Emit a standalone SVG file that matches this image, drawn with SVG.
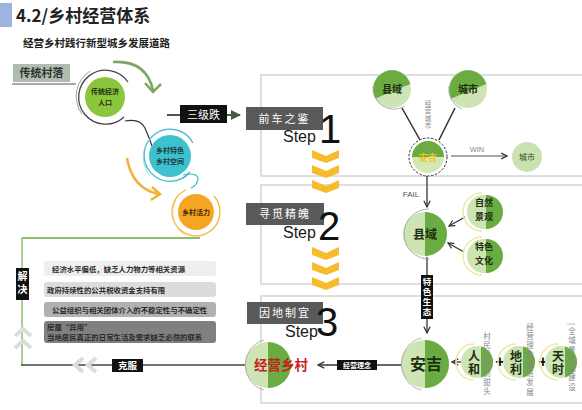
<svg xmlns="http://www.w3.org/2000/svg" width="582" height="410" viewBox="0 0 582 410">
<defs>
<style>
.cjk{font-family:"Noto Sans CJK SC","Noto Sans",sans-serif}
.lat{font-family:"Liberation Sans",Arial,sans-serif}
.box{fill:none;stroke:#d4d4d4;stroke-width:1.5}
.step{fill:#595959}
.steptxt{fill:#fff;font-size:11px;letter-spacing:2px}
.stepw{font-size:16px;fill:#1a1a1a}
.num{font-size:40px;fill:#111}
.chev{fill:#f8bb2c}
.gchev{fill:none;stroke:#dcdcdc;stroke-width:4}
.lt{fill:#cde4b4}
.dk{fill:#6aab42}
.gl{fill:none;stroke:#9a9a9a;stroke-width:0.8}
.yl{fill:none;stroke:#efe9a8;stroke-width:1.5}
.ln{fill:none;stroke:#333;stroke-width:1.5}
.blk{fill:#111}
.vert{writing-mode:vertical-rl}
.vt{font-size:7.5px;fill:#888;letter-spacing:1.8px}
.tb{font-size:7.4px;fill:#2a2a2a;font-weight:bold}
.nt{font-weight:bold;fill:#1e2e10}
.pair{font-size:12px;letter-spacing:1px}
</style>
<marker id="ah" viewBox="0 0 10 10" refX="9" refY="5" markerWidth="6" markerHeight="6" orient="auto-start-reverse">
<path d="M1,1 L9,5 L1,9" fill="none" stroke="#333" stroke-width="1.6"/>
</marker>
<marker id="ahs" viewBox="0 0 10 10" refX="9" refY="5" markerWidth="5" markerHeight="5" orient="auto">
<path d="M0,0 L10,5 L0,10 Z" fill="#4a5a40"/>
</marker>
</defs>
<rect width="582" height="410" fill="#fff"/>

<g id="title">
<rect x="0" y="3" width="12" height="24" fill="#9db4e0"/>
<text x="16" y="22" class="cjk" font-size="17" font-weight="bold" fill="#222">4.2/乡村经营体系</text>
<text x="23" y="47" class="cjk" font-size="10.5" font-weight="bold" fill="#222">经营乡村践行新型城乡发展道路</text>
</g>

<g id="panels">
<rect class="box" x="261" y="75" width="330" height="101"/>
<rect class="box" x="261" y="185" width="330" height="99"/>
<rect class="box" x="261" y="296" width="330" height="107"/>
</g>

<g id="connectors">
<path d="M113,62 Q146,60 153,90" fill="none" stroke="#7aa860" stroke-width="2.5"/>
<path d="M145,83 L153,92 L161,84" fill="none" stroke="#7aa860" stroke-width="2.5"/>
<path d="M127,158 Q132,188 158,194" fill="none" stroke="#f3b03a" stroke-width="2.5"/>
<path d="M152,187 L160,194 L151,200" fill="none" stroke="#f3b03a" stroke-width="2.5"/>
<path d="M125,121 Q140,118 145,128 Q150,140 152,146" fill="none" stroke="#333" stroke-width="1.2"/>
<path d="M183,175 Q196,172 198,178 Q198,185 191,188" fill="none" stroke="#3bb8c8" stroke-width="1.2"/>
<line x1="167" y1="115" x2="240" y2="115" stroke="#4a5a40" stroke-width="2" marker-end="url(#ahs)"/>
<line class="ln" x1="402" y1="108" x2="420" y2="140"/>
<line class="ln" x1="455" y1="108" x2="439" y2="140"/>
<line x1="451" y1="156" x2="507" y2="156" stroke="#555" stroke-width="1.2" marker-end="url(#ah)"/>
<line x1="427" y1="176" x2="427" y2="207" stroke="#333" stroke-width="1.3" marker-end="url(#ah)"/>
<line x1="465" y1="217" x2="449" y2="226" stroke="#333" stroke-width="1.2" marker-end="url(#ah)"/>
<line x1="464" y1="252" x2="448" y2="243" stroke="#333" stroke-width="1.2" marker-end="url(#ah)"/>
<line x1="427" y1="257" x2="427" y2="333" stroke="#333" stroke-width="1.3" marker-end="url(#ah)"/>
<line x1="463" y1="362" x2="452" y2="362" stroke="#333" stroke-width="1.3" marker-end="url(#ah)"/>
<line x1="401" y1="365" x2="318" y2="365" stroke="#333" stroke-width="1.3" marker-end="url(#ah)"/>
<line x1="22" y1="238" x2="200" y2="238" stroke="#8dc06a" stroke-width="2"/>
<line x1="22" y1="238" x2="22" y2="365" stroke="#8dc06a" stroke-width="1.5"/>
<line x1="21" y1="365" x2="245" y2="365" stroke="#444" stroke-width="1.5"/>
<line x1="12" y1="84" x2="76" y2="84" stroke="#555" stroke-width="1.2"/>
</g>

<g id="traditional">
<rect x="13" y="64" width="57" height="18" fill="#aebdad"/>
<text x="41.5" y="77" class="cjk" font-size="11" font-weight="bold" fill="#333" text-anchor="middle">传统村落</text>
</g>
<g id="c-economy">
<path d="M128,82 A27,27 0 1 0 124,117" fill="none" stroke="#444" stroke-width="1.3"/>
<path d="M90,71 A30,30 0 0 0 82,114" fill="none" stroke="#888" stroke-width="0.8"/>
<circle cx="105" cy="97" r="20" fill="#8cc63e"/>
<text class="cjk" font-size="7" font-weight="bold" fill="#243010" text-anchor="middle"><tspan x="105" y="94">传统经济</tspan><tspan x="105" y="105">人口</tspan></text>
</g>
<g id="c-space">
<path d="M193,143 A26,26 0 1 0 190,172" fill="none" stroke="#3bb8c8" stroke-width="1.3"/>
<path d="M160,131 A29,29 0 0 0 150,176" fill="none" stroke="#8fd5de" stroke-width="0.8"/>
<circle cx="170" cy="156" r="21" fill="#3ec1cf"/>
<text class="cjk" font-size="7" font-weight="bold" fill="#1a3a40" text-anchor="middle"><tspan x="170" y="153">乡村特色</tspan><tspan x="170" y="164">乡村空间</tspan></text>
</g>
<g id="c-vitality">
<path d="M186,190 A24,24 0 1 0 214,196" fill="none" stroke="#f5b335" stroke-width="1.3"/>
<path d="M176,200 A27,27 0 0 0 186,236" fill="none" stroke="#f8cf7a" stroke-width="0.8"/>
<circle cx="196" cy="212" r="18" fill="#f6a622"/>
<text x="196" y="215" class="cjk" font-size="7" font-weight="bold" fill="#3a2400" text-anchor="middle">乡村活力</text>
</g>
<g id="lbl-sanji">
<rect x="180" y="105" width="47" height="18" class="blk"/>
<text x="203.5" y="118.5" class="cjk" font-size="11" fill="#fff" text-anchor="middle">三级跌</text>
</g>

<g id="step1">
<rect class="step" x="246" y="107" width="77" height="23"/>
<text x="284.5" y="122.5" class="cjk steptxt" text-anchor="middle">前车之鉴</text>
<text x="283" y="142" class="lat stepw">Step</text>
<text x="319" y="143" class="lat num">1</text>
</g>
<g id="step2">
<rect class="step" x="246" y="203" width="78" height="22"/>
<text x="285" y="218" class="cjk steptxt" text-anchor="middle">寻觅精魄</text>
<text x="283" y="238" class="lat stepw">Step</text>
<text x="318" y="240" class="lat num">2</text>
</g>
<g id="step3">
<rect class="step" x="247" y="302" width="76" height="22"/>
<text x="285" y="317" class="cjk steptxt" text-anchor="middle">因地制宜</text>
<text x="285" y="337" class="lat stepw">Step</text>
<text x="316" y="336" class="lat num">3</text>
</g>
<g id="chevrons">
<path class="chev" d="M312,150 L326,156 L339,150 L339,158 L326,163 L312,158 Z"/>
<path class="chev" d="M312,165 L326,171 L339,165 L339,173 L326,178 L312,173 Z"/>
<path class="chev" d="M312,180 L326,186 L339,180 L339,188 L326,193 L312,188 Z"/>
<path class="chev" d="M312,247 L326,253 L339,247 L339,255 L326,260 L312,255 Z"/>
<path class="chev" d="M312,262 L326,268 L339,262 L339,270 L326,275 L312,270 Z"/>
<path class="chev" d="M312,277 L326,283 L339,277 L339,285 L326,290 L312,285 Z"/>
</g>

<g id="n-xianyu-top">
<circle class="lt" cx="392" cy="89" r="19"/>
<path class="dk" d="M410.4,84.1 A19,19 0 1 0 375.5,98.5 Z"/>
<path class="gl" d="M373,86 A21,21 0 0 0 405,106"/>
<text x="392" y="93" class="cjk nt" font-size="10" text-anchor="middle">县域</text>
</g>
<g id="n-city-top">
<circle class="lt" cx="468" cy="89" r="19"/>
<path class="dk" d="M486.4,84.1 A19,19 0 1 0 451.5,98.5 Z"/>
<path class="gl" d="M449,86 A21,21 0 0 0 462,109"/>
<text x="468" y="93" class="cjk nt" font-size="10" text-anchor="middle">城市</text>
</g>
<g id="lbl-jycs">
<text x="428" y="100" class="cjk vert" font-size="6.5" fill="#888" letter-spacing="1">经营城市</text>
</g>
<g id="n-anji-top">
<circle cx="428" cy="157" r="19" fill="#fff" stroke="#333" stroke-width="1" stroke-dasharray="2.5,1.5"/>
<circle cx="428" cy="157" r="16" fill="#d3e9b5"/>
<path d="M412,157 A16,16 0 0 1 444,157 Z" fill="#6aab42"/>
<text x="428" y="161" class="cjk" font-size="9" font-weight="bold" fill="#f5c518" text-anchor="middle">安吉</text>
</g>
<g id="lbl-win"><text x="477" y="152" class="lat" font-size="7.5" fill="#888" text-anchor="middle">WIN</text></g>
<g id="n-city-win">
<circle cx="527" cy="157" r="15" fill="#c8e2b0"/>
<text x="527" y="160" class="cjk" font-size="8" fill="#3a4a30" text-anchor="middle">城市</text>
</g>
<g id="lbl-fail"><text x="411" y="197" class="lat" font-size="8" fill="#555" text-anchor="middle">FAIL</text></g>

<g id="n-xianyu-mid">
<circle class="lt" cx="425" cy="234" r="22"/>
<path class="dk" d="M425,212 A22,22 0 0 1 425,256 Z"/>
<path class="gl" d="M429,209 A25,25 0 0 0 429,259"/>
<text x="425" y="239" class="cjk nt" font-size="12" text-anchor="middle">县域</text>
</g>
<g id="n-nature">
<circle class="lt" cx="484" cy="212" r="17"/>
<path class="dk" d="M486,195 A17,17 0 0 1 486,229 Z"/>
<path class="yl" d="M482,193 A19,19 0 0 0 482,231"/>
<text class="cjk nt" font-size="9" text-anchor="middle"><tspan x="484" y="206">自然</tspan><tspan x="484" y="220">景观</tspan></text>
</g>
<g id="n-culture">
<circle class="lt" cx="484" cy="256" r="17"/>
<path class="dk" d="M486,239 A17,17 0 0 1 486,273 Z"/>
<path class="yl" d="M482,237 A19,19 0 0 0 482,275"/>
<text class="cjk nt" font-size="9" text-anchor="middle"><tspan x="484" y="250">特色</tspan><tspan x="484" y="264">文化</tspan></text>
</g>
<g id="lbl-tsst">
<rect x="421" y="275" width="12" height="44" class="blk"/>
<text x="427" y="278" class="cjk vert" font-size="8.5" fill="#fff" font-weight="bold" letter-spacing="1.5">特色生态</text>
</g>

<g id="n-anji">
<circle class="lt" cx="425" cy="364" r="24"/>
<path class="dk" d="M425,340 A24,24 0 0 1 425,388 Z"/>
<path class="gl" d="M421,338 A27,27 0 0 0 421,390"/>
<text x="426" y="370" class="cjk nt" font-size="16" text-anchor="middle">安吉</text>
</g>
<g id="n-renhe">
<circle class="lt" cx="477" cy="362" r="16"/>
<path class="dk" d="M481,346.5 A16,16 0 0 1 481,377.5 Z"/>
<path class="yl" d="M474,344 A18,18 0 0 0 474,380"/>
<text x="474" y="350" class="cjk nt vert pair">人和</text>
</g>
<g id="plus1"><text x="500" y="367" class="lat" font-size="16" font-weight="bold" fill="#111" text-anchor="middle">+</text></g>
<g id="n-dili">
<circle class="lt" cx="519" cy="362" r="16"/>
<path class="dk" d="M523,346.5 A16,16 0 0 1 523,377.5 Z"/>
<path class="yl" d="M516,344 A18,18 0 0 0 516,380"/>
<text x="516" y="350" class="cjk nt vert pair">地利</text>
</g>
<g id="plus2"><text x="543" y="367" class="lat" font-size="16" font-weight="bold" fill="#111" text-anchor="middle">+</text></g>
<g id="n-tianshi">
<circle class="lt" cx="561" cy="362" r="16"/>
<path class="dk" d="M565,346.5 A16,16 0 0 1 565,377.5 Z"/>
<path class="yl" d="M558,344 A18,18 0 0 0 558,380"/>
<text x="558" y="350" class="cjk nt vert pair">天时</text>
</g>
<g id="vt-cunmin"><text x="487" y="332" class="cjk vert vt">村民已尝到甜头</text></g>
<g id="vt-jingying"><text x="530" y="323" class="cjk vert vt">经营理念推进发展</text></g>
<g id="vt-quanyu"><text x="572" y="323" class="cjk vert vt">[全域景区化建设</text></g>
<g id="lbl-jyln">
<rect x="337" y="360" width="40" height="10" class="blk"/>
<text x="357" y="368" class="cjk" font-size="7" fill="#fff" text-anchor="middle" font-weight="bold">经营理念</text>
</g>
<g id="n-jyxc">
<circle class="lt" cx="268" cy="365" r="23"/>
<path class="dk" d="M268,342 A23,23 0 0 1 268,388 Z"/>
<path class="gl" d="M264,340 A26,26 0 0 0 264,390"/>
<text x="281" y="370" class="cjk" font-size="13.5" font-weight="bold" fill="#c81e1e" text-anchor="middle">经营乡村</text>
</g>

<g id="lbl-jiejue">
<rect x="16" y="268" width="13" height="32" class="blk"/>
<text x="22.5" y="271" class="cjk vert" font-size="10" fill="#fff" font-weight="bold" letter-spacing="3">解决</text>
</g>
<g id="upchev">
<path class="gchev" d="M15,336 L23,329 L31,336"/>
<path class="gchev" d="M15,348 L23,341 L31,348"/>
</g>
<g id="leftchev">
<path class="gchev" d="M83,358 L75,365 L83,372"/>
<path class="gchev" d="M96,358 L88,365 L96,372"/>
</g>
<g id="lbl-kefu">
<rect x="112" y="359" width="31" height="13" class="blk"/>
<text x="127.5" y="369" class="cjk" font-size="9.5" fill="#fff" text-anchor="middle" font-weight="bold">克服</text>
</g>
<g id="issue1">
<rect x="44" y="261" width="172" height="15" rx="3" fill="#eeeeee"/>
<text x="52" y="271.5" class="cjk tb">经济水平偏低，缺乏人力物力等相关资源</text>
</g>
<g id="issue2">
<rect x="44" y="282" width="172" height="15" rx="3" fill="#dcdcdc"/>
<text x="47" y="292.5" class="cjk tb">政府持续性的公共税收资金支持有限</text>
</g>
<g id="issue3">
<rect x="44" y="302" width="172" height="15" rx="3" fill="#b1b1b1"/>
<text x="52" y="312.5" class="cjk tb">公益组织与相关团体介入的不稳定性与不确定性</text>
</g>
<g id="issue4">
<rect x="44" y="321" width="172" height="22" rx="3" fill="#808080"/>
<text class="cjk tb"><tspan x="47" y="330">房屋“异用”</tspan><tspan x="47" y="340">当地居民真正的日常生活及需求缺乏必然的联系</tspan></text>
</g>
</svg>
